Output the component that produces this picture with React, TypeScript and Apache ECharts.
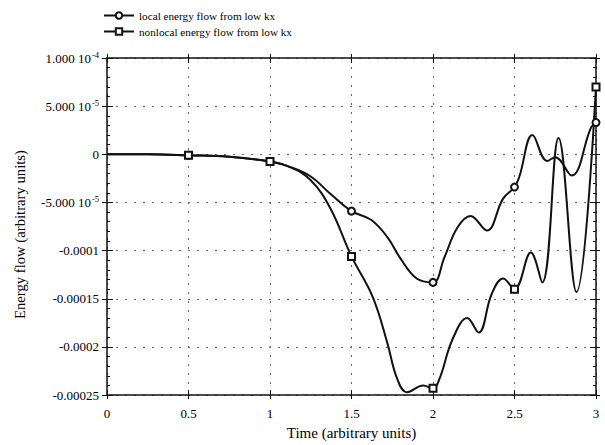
import React, { useEffect, useRef } from "react";
import * as echarts from "echarts";

const localX = [0, 0.25, 0.5, 0.75, 1.0, 1.12, 1.25, 1.37, 1.5, 1.62, 1.72, 1.8, 1.9, 2.0, 2.07, 2.15, 2.23, 2.33, 2.43, 2.5, 2.53, 2.61, 2.7, 2.75, 2.85, 2.97, 3.0];
const localY = [0, 0, -1e-6, -2.5e-6, -7.5e-6, -1.3e-5, -2.3e-5, -4.1e-5, -5.9e-5, -6.8e-5, -8.6e-5, -1.08e-4, -1.29e-4, -1.33e-4, -1.07e-4, -7.6e-5, -6.4e-5, -7.9e-5, -4.6e-5, -3.4e-5, -2.3e-5, 2.0e-5, -7e-6, -3e-6, -2.2e-5, 2.8e-5, 3.3e-5];

const nonlocalX = [0, 0.25, 0.5, 0.75, 1.0, 1.12, 1.25, 1.37, 1.5, 1.63, 1.72, 1.78, 1.84, 1.94, 2.0, 2.04, 2.12, 2.21, 2.28, 2.36, 2.43, 2.5, 2.6, 2.67, 2.77, 2.88, 3.0];
const nonlocalY = [0, 0, -1e-6, -2.5e-6, -7.5e-6, -1.3e-5, -2.7e-5, -5.6e-5, -1.06e-4, -1.48e-4, -1.96e-4, -2.33e-4, -2.47e-4, -2.4e-4, -2.43e-4, -2.33e-4, -1.92e-4, -1.7e-4, -1.85e-4, -1.45e-4, -1.29e-4, -1.4e-4, -1.02e-4, -1.33e-4, 1.7e-5, -1.43e-4, 7e-5];

const markerX = [0.5, 1, 1.5, 2, 2.5, 3];

const xTickLabels = ["0", "0.5", "1", "1.5", "2", "2.5", "3"];
const yTickLabels = [
  "{n|-0.00025}",
  "{n|-0.0002}",
  "{n|-0.00015}",
  "{n|-0.0001}",
  "{n|-5.000 10}{sup|-5}",
  "{n|0}",
  "{n|5.000 10}{sup|-5}",
  "{n|1.000 10}{sup|-4}",
];

const seriesNames = ["local energy flow from low kx", "nonlocal energy flow from low kx"];

const FONT = "Liberation Serif";
const INK = "#111";

export default function App() {
  const ref = useRef<HTMLDivElement>(null);
  useEffect(() => {
    if (!ref.current) return;
    const chart = echarts.init(ref.current, null, { renderer: "svg" });
    const yMin = -2.5e-4;
    const yMax = 1e-4;
    const yInt = 5e-5;
    const grid = { left: 107, right: 9, top: 58, bottom: 45 };
    const baseX = { type: "value", min: 0, max: 3, interval: 0.5, gridIndex: 0 };
    const baseY = { type: "value", min: yMin, max: yMax, interval: yInt, gridIndex: 0 };
    const gridLine = { show: true, lineStyle: { color: "#666", type: [2, 7], width: 1 } };
    const line = (show: boolean) => ({ show, onZero: false, lineStyle: { color: INK, width: 1.5 } });
    const mk = (xs: number[], ys: number[], sym: string) =>
      xs.map((x, i) => ({ value: [x, ys[i]], symbol: markerX.includes(x) ? sym : "none" }));

    chart.setOption({
      animation: false,
      backgroundColor: "#fff",
      textStyle: { fontFamily: FONT, color: "#000" },
      legend: {
        orient: "vertical",
        left: 98,
        top: 5,
        itemWidth: 30,
        itemHeight: 8,
        itemGap: 5,
        textStyle: { fontFamily: FONT, fontSize: 11.2, color: "#000" },
        data: seriesNames,
      },
      grid,
      xAxis: [
        {
          ...baseX,
          position: "bottom",
          name: "Time (arbitrary units)",
          nameLocation: "middle",
          nameGap: 28,
          nameTextStyle: { fontFamily: FONT, fontSize: 15, color: "#000" },
          axisLine: line(true),
          axisTick: { show: true, inside: false, length: 4, lineStyle: { color: INK } },
          axisLabel: {
            fontFamily: FONT,
            fontSize: 13,
            color: "#000",
            margin: 12,
            formatter: (v: number) => xTickLabels[Math.round(v / 0.5)] ?? "",
          },
          splitLine: gridLine,
        },
        {
          ...baseX,
          position: "bottom",
          axisLine: line(false),
          axisTick: { show: true, inside: true, length: 5, lineStyle: { color: INK } },
          axisLabel: { show: false },
          splitLine: { show: false },
        },
        {
          ...baseX,
          position: "top",
          axisLine: line(true),
          axisTick: { show: true, inside: true, length: 5, lineStyle: { color: INK } },
          axisLabel: { show: false },
          splitLine: { show: false },
        },
        {
          ...baseX,
          position: "top",
          axisLine: line(false),
          axisTick: { show: true, inside: false, length: 4, lineStyle: { color: INK } },
          axisLabel: { show: false },
          splitLine: { show: false },
        },
      ],
      yAxis: [
        {
          ...baseY,
          position: "left",
          name: "Energy flow (arbitrary units)",
          nameLocation: "middle",
          nameGap: 80,
          nameTextStyle: { fontFamily: FONT, fontSize: 14.7, color: "#000", padding: [0, 16, 0, 0] },
          axisLine: line(true),
          axisTick: { show: true, inside: false, length: 5, lineStyle: { color: INK } },
          axisLabel: {
            margin: 8,
            formatter: (v: number) => yTickLabels[Math.round((v - yMin) / yInt)] ?? "",
            rich: {
              n: { fontFamily: FONT, fontSize: 13, color: "#000", lineHeight: 15 },
              sup: { fontFamily: FONT, fontSize: 8.5, color: "#000", verticalAlign: "top", lineHeight: 15, padding: [0, 0, 6, 1] },
            },
          },
          splitLine: gridLine,
        },
        {
          ...baseY,
          position: "left",
          axisLine: line(false),
          axisTick: { show: true, inside: true, length: 6, lineStyle: { color: INK } },
          minorTick: { show: true, splitNumber: 5, length: 3, lineStyle: { color: INK } },
          axisLabel: { show: false },
          splitLine: { show: false },
        },
        {
          ...baseY,
          position: "right",
          axisLine: line(true),
          axisTick: { show: true, inside: true, length: 6, lineStyle: { color: INK } },
          minorTick: { show: true, splitNumber: 5, length: 3, lineStyle: { color: INK } },
          axisLabel: { show: false },
          splitLine: { show: false },
        },
        {
          ...baseY,
          position: "right",
          axisLine: line(false),
          axisTick: { show: true, inside: false, length: 4, lineStyle: { color: INK } },
          axisLabel: { show: false },
          splitLine: { show: false },
        },
      ],
      series: [
        {
          name: seriesNames[0],
          type: "line",
          xAxisIndex: 0,
          yAxisIndex: 0,
          smooth: 0.4,
          symbol: "emptyCircle",
          symbolSize: 7,
          showAllSymbol: true,
          lineStyle: { color: INK, width: 2 },
          itemStyle: { color: INK, borderColor: INK, borderWidth: 1.2 },
          data: mk(localX, localY, "emptyCircle"),
          z: 3,
        },
        {
          name: seriesNames[1],
          type: "line",
          xAxisIndex: 0,
          yAxisIndex: 0,
          smooth: 0.4,
          symbol: "emptyRect",
          symbolSize: 7,
          showAllSymbol: true,
          lineStyle: { color: INK, width: 2 },
          itemStyle: { color: INK, borderColor: INK, borderWidth: 1.2 },
          data: mk(nonlocalX, nonlocalY, "emptyRect"),
          z: 3,
        },
      ],
    });
    return () => chart.dispose();
  }, []);
  return (
    <div
      ref={ref}
      style={{ position: "fixed", left: 0, top: 0, width: 605, height: 445, background: "#fff" }}
    />
  );
}
